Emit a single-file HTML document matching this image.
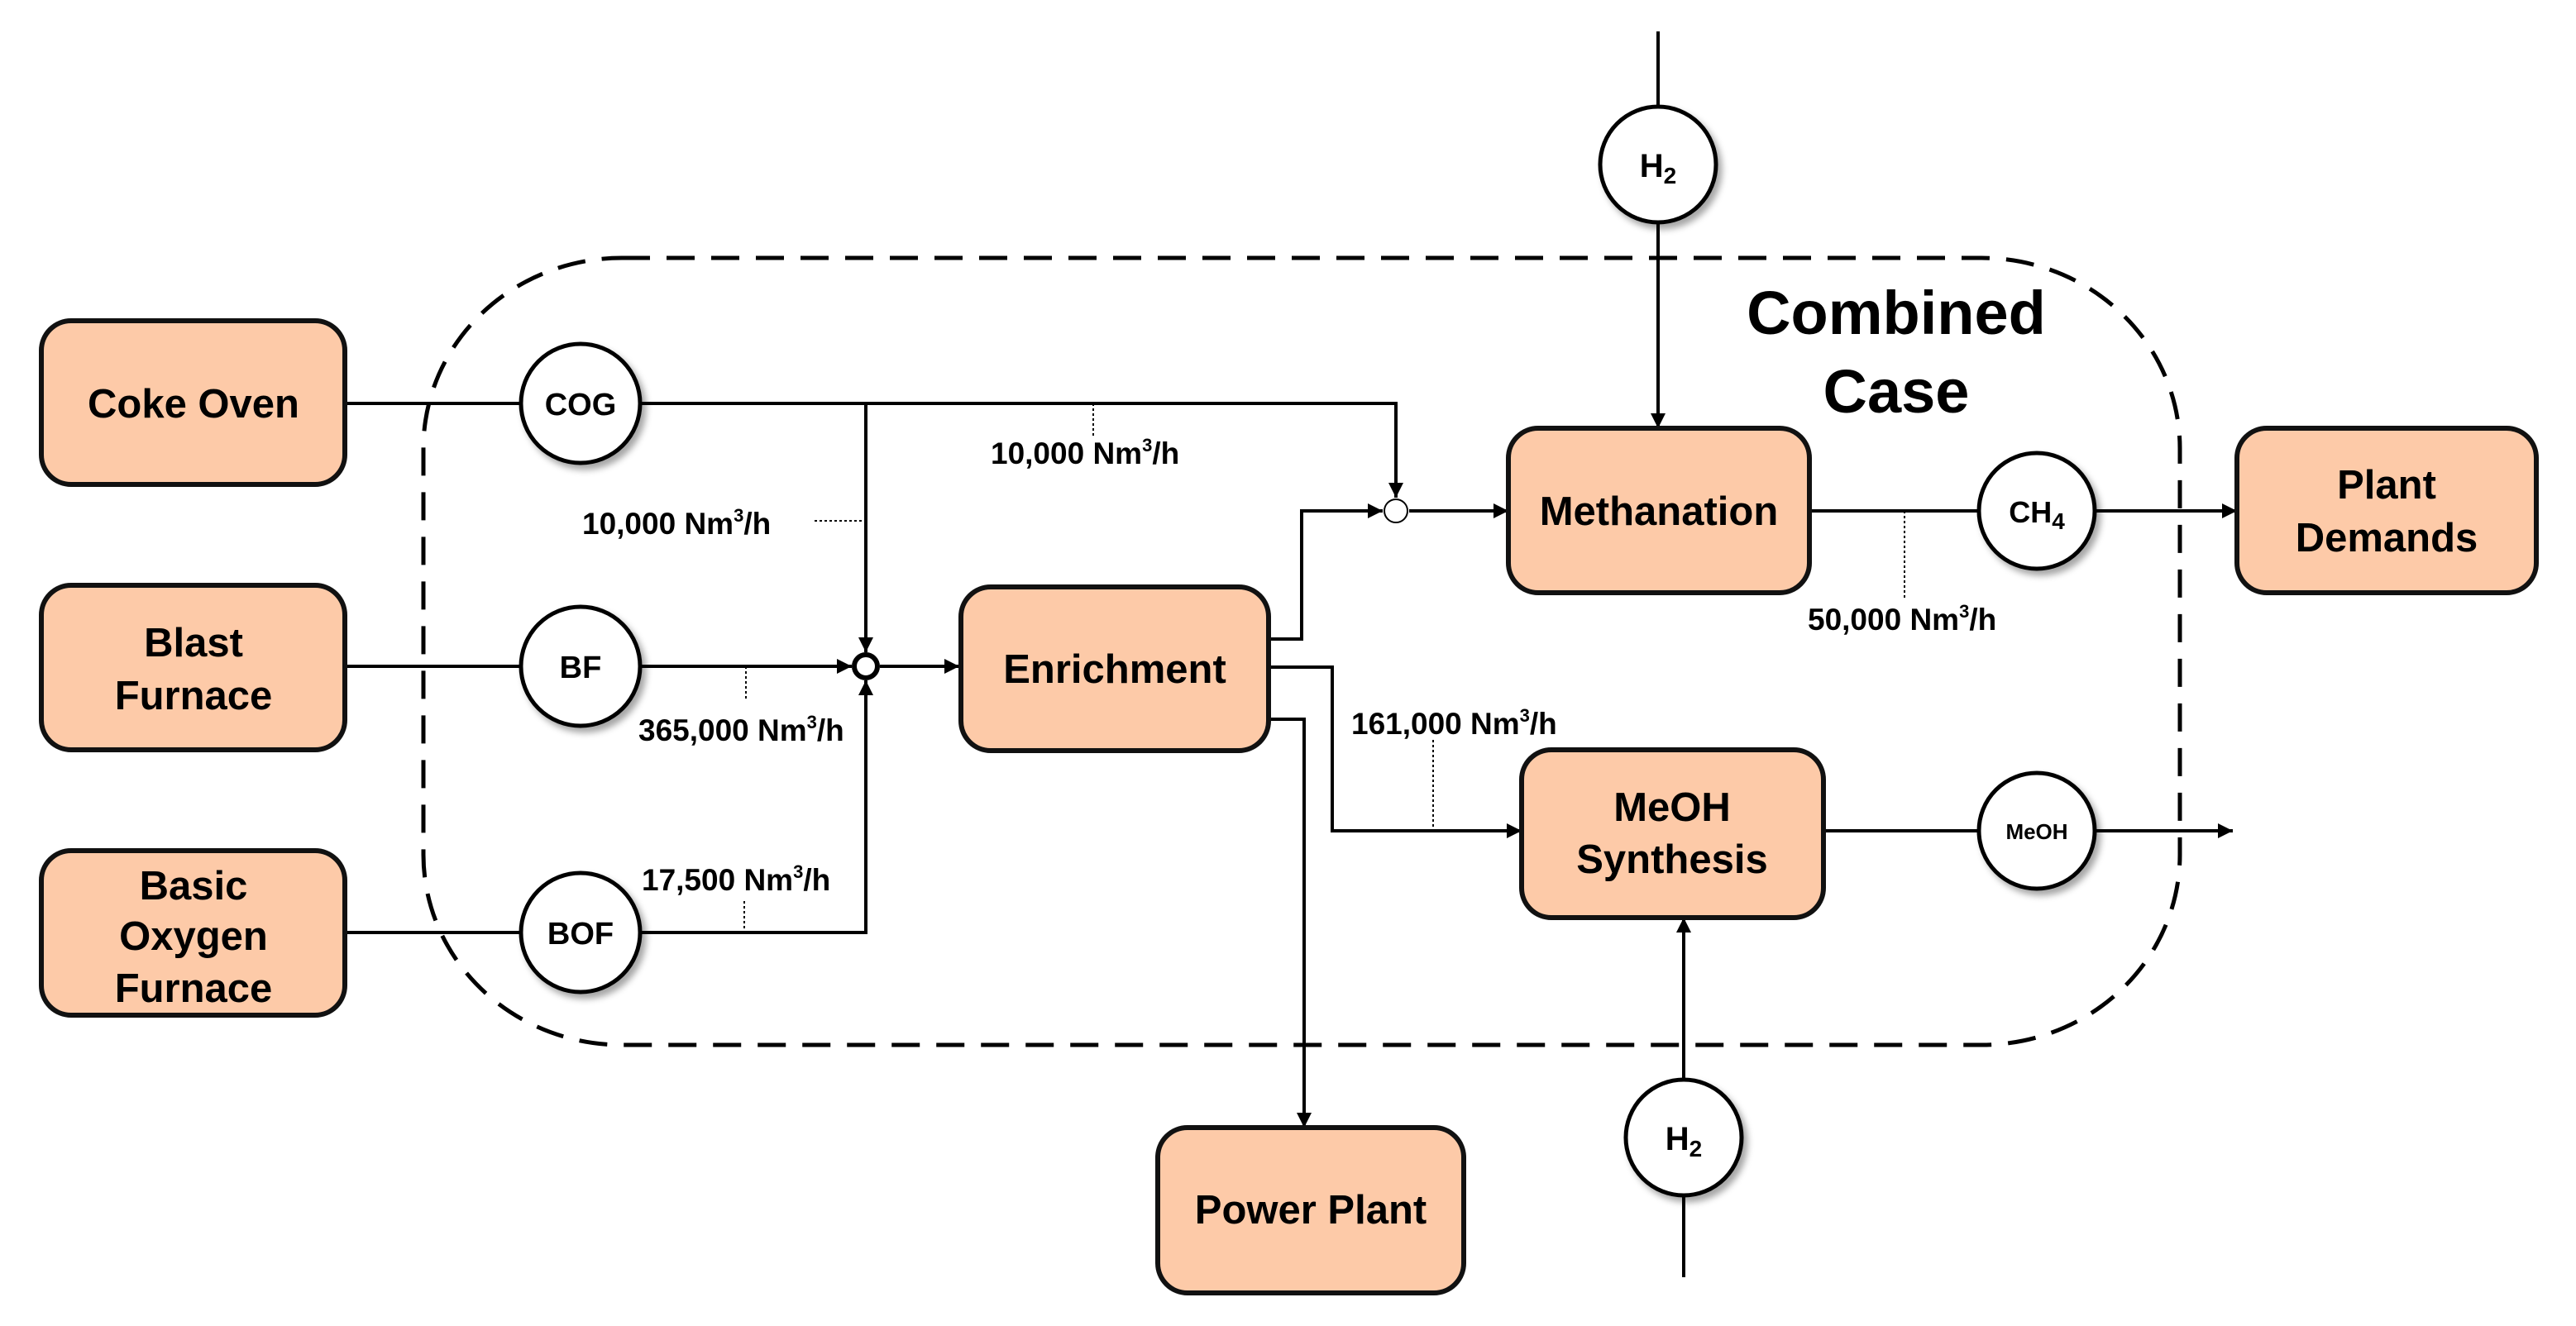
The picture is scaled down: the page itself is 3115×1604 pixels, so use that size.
<!DOCTYPE html>
<html><head><meta charset="utf-8"><style>
html,body{margin:0;padding:0;background:#fff}
svg{display:block}
.b{font-family:"Liberation Sans",sans-serif;font-weight:bold;font-size:49px;fill:#000;text-anchor:middle}
.c{font-family:"Liberation Sans",sans-serif;font-weight:bold;font-size:38px;fill:#000;text-anchor:middle}
.l{font-family:"Liberation Sans",sans-serif;font-weight:bold;font-size:37px;fill:#000}
</style></head><body>
<svg width="3115" height="1604" viewBox="0 0 3115 1604" xmlns="http://www.w3.org/2000/svg">
<defs>
<marker id="a" viewBox="0 0 10 10" refX="10" refY="5" markerWidth="18" markerHeight="18" markerUnits="userSpaceOnUse" orient="auto"><path d="M0,0L10,5L0,10z" fill="#000"/></marker>
<filter id="s" x="-30%" y="-30%" width="160%" height="160%"><feDropShadow dx="5" dy="6" stdDeviation="4" flood-color="#000" flood-opacity="0.35"/></filter>
</defs>
<g fill="none" stroke="#000">
<rect x="512" y="312" width="2124" height="952" rx="240" ry="230" stroke-width="5" stroke-dasharray="34,20"/>
<g stroke-width="4">
<line x1="417" y1="488" x2="630" y2="488"/>
<line x1="417" y1="806" x2="630" y2="806"/>
<line x1="417" y1="1128" x2="630" y2="1128"/>
<polyline points="774,488 1688,488 1688,602" marker-end="url(#a)"/>
<line x1="1047" y1="488" x2="1047" y2="789" marker-end="url(#a)"/>
<line x1="774" y1="806" x2="1030" y2="806" marker-end="url(#a)"/>
<polyline points="774,1128 1047,1128 1047,823" marker-end="url(#a)"/>
<line x1="1064" y1="806" x2="1160" y2="806" marker-end="url(#a)"/>
<polyline points="1534,773 1574,773 1574,618 1672,618" marker-end="url(#a)"/>
<line x1="1704" y1="618" x2="1824" y2="618" marker-end="url(#a)"/>
<polyline points="1534,807 1611,807 1611,1005 1840,1005" marker-end="url(#a)"/>
<polyline points="1534,870 1577,870 1577,1364" marker-end="url(#a)"/>
<line x1="2005" y1="38" x2="2005" y2="130"/>
<line x1="2005" y1="268" x2="2005" y2="518" marker-end="url(#a)"/>
<line x1="2188" y1="618" x2="2391" y2="618"/>
<line x1="2535" y1="618" x2="2705" y2="618" marker-end="url(#a)"/>
<line x1="2205" y1="1005" x2="2391" y2="1005"/>
<line x1="2535" y1="1005" x2="2700" y2="1005" marker-end="url(#a)"/>
<line x1="2036" y1="1545" x2="2036" y2="1446"/>
<line x1="2036" y1="1306" x2="2036" y2="1110" marker-end="url(#a)"/>
</g>
<g stroke-width="2" stroke-dasharray="3,3">
<line x1="985" y1="630" x2="1047" y2="630"/>
<line x1="1322" y1="488" x2="1322" y2="530"/>
<line x1="902" y1="806" x2="902" y2="845"/>
<line x1="900" y1="1090" x2="900" y2="1128"/>
<line x1="2303" y1="618" x2="2303" y2="723"/>
<line x1="1733" y1="895" x2="1733" y2="1005"/>
</g>
<circle cx="1047" cy="806" r="14" fill="#fff" stroke-width="6"/>
<circle cx="1688" cy="618" r="14" fill="#fff" stroke-width="2"/>
</g>
<g fill="#fdcaa8" stroke="#111" stroke-width="6">
<rect x="50" y="388" width="367" height="198" rx="36"/>
<rect x="50" y="708" width="367" height="199" rx="36"/>
<rect x="50" y="1029" width="367" height="199" rx="36"/>
<rect x="1162" y="710" width="372" height="198" rx="36"/>
<rect x="1824" y="518" width="364" height="199" rx="36"/>
<rect x="2705" y="518" width="362" height="199" rx="36"/>
<rect x="1840" y="907" width="365" height="203" rx="36"/>
<rect x="1400" y="1364" width="370" height="200" rx="36"/>
</g>
<g fill="#fff" stroke="#000" stroke-width="5" filter="url(#s)">
<ellipse cx="702" cy="488" rx="72" ry="72"/>
<ellipse cx="702" cy="806" rx="72" ry="72"/>
<ellipse cx="702" cy="1128" rx="72" ry="72"/>
<ellipse cx="2005" cy="199" rx="70" ry="70"/>
<ellipse cx="2463" cy="618" rx="70" ry="70"/>
<ellipse cx="2463" cy="1005" rx="70" ry="70"/>
<ellipse cx="2036" cy="1376" rx="70" ry="70"/>
</g>
<g class="b">
<text x="234" y="505">Coke Oven</text>
<text x="234" y="794">Blast</text><text x="234" y="858">Furnace</text>
<text x="234" y="1088">Basic</text><text x="234" y="1149">Oxygen</text><text x="234" y="1212">Furnace</text>
<text x="1348" y="826">Enrichment</text>
<text x="2006" y="635">Methanation</text>
<text x="2886" y="603">Plant</text><text x="2886" y="667">Demands</text>
<text x="2022" y="993">MeOH</text><text x="2022" y="1056">Synthesis</text>
<text x="1585" y="1480">Power Plant</text>
<text x="2293" y="404" style="font-size:74px">Combined</text>
<text x="2293" y="499" style="font-size:74px">Case</text>
</g>
<g class="c">
<text x="702" y="502">COG</text>
<text x="702" y="820">BF</text>
<text x="702" y="1142">BOF</text>
<text x="2005" y="214" font-size="40">H<tspan font-size="28" dy="8">2</tspan></text>
<text x="2036" y="1391" font-size="40">H<tspan font-size="28" dy="8">2</tspan></text>
<text x="2463" y="632" font-size="36">CH<tspan font-size="28" dy="8">4</tspan></text>
<text x="2463" y="1015" font-size="26">MeOH</text>
</g>
<g class="l">
<text x="704" y="646">10,000 Nm<tspan font-size="22" dy="-15">3</tspan><tspan dy="15">/h</tspan></text>
<text x="1198" y="561">10,000 Nm<tspan font-size="22" dy="-15">3</tspan><tspan dy="15">/h</tspan></text>
<text x="772" y="896">365,000 Nm<tspan font-size="22" dy="-15">3</tspan><tspan dy="15">/h</tspan></text>
<text x="776" y="1077">17,500 Nm<tspan font-size="22" dy="-15">3</tspan><tspan dy="15">/h</tspan></text>
<text x="2186" y="762">50,000 Nm<tspan font-size="22" dy="-15">3</tspan><tspan dy="15">/h</tspan></text>
<text x="1634" y="888">161,000 Nm<tspan font-size="22" dy="-15">3</tspan><tspan dy="15">/h</tspan></text>
</g>
</svg>
</body></html>
